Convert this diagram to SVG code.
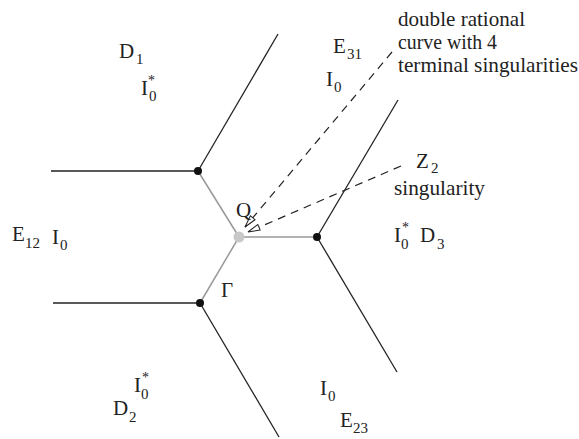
<svg xmlns="http://www.w3.org/2000/svg" width="579" height="439" viewBox="0 0 579 439" font-family="'Liberation Serif', 'Times New Roman', serif">
<style>
text{font-family:'Liberation Serif','Times New Roman',serif;fill:#222}
.m{font-size:21px}
.s{font-size:15px}
.st{font-size:14px}
.a{font-size:21px}
.blk{stroke:#222;stroke-width:1.3;fill:none}
.gry{stroke:#999;stroke-width:1.5;fill:none}
.dash{stroke:#222;stroke-width:1.2;fill:none;stroke-dasharray:8 6}
</style>
<defs>
<marker id="ah" markerWidth="14" markerHeight="10" refX="13" refY="5" orient="auto" markerUnits="userSpaceOnUse">
<path d="M1,2 L13,5 L1,8 Z" fill="#fff" stroke="#222" stroke-width="1"/>
</marker>
</defs>
<g id="connectors">
<line class="blk" x1="51" y1="171" x2="198" y2="171"/>
<line class="blk" x1="198" y1="171" x2="278" y2="34"/>
<line class="blk" x1="53" y1="303" x2="200" y2="303"/>
<line class="blk" x1="200" y1="303" x2="279" y2="437"/>
<line class="blk" x1="317" y1="237" x2="398" y2="100"/>
<line class="blk" x1="317" y1="237" x2="397" y2="372"/>
<line class="gry" x1="198" y1="171" x2="239" y2="237"/>
<line class="gry" x1="239" y1="237" x2="200" y2="303"/>
<line class="gry" x1="239" y1="237" x2="317" y2="237"/>
<line class="dash" x1="392" y1="52" x2="245" y2="227" marker-end="url(#ah)"/>
<line class="dash" x1="401" y1="166" x2="248" y2="232" marker-end="url(#ah)"/>
</g>
<g id="node-p1"><circle cx="198" cy="171" r="4" fill="#111"/></g>
<g id="node-p2"><circle cx="200" cy="303" r="4" fill="#111"/></g>
<g id="node-p3"><circle cx="317" cy="237" r="4" fill="#111"/></g>
<g id="node-Q"><circle cx="239" cy="237" r="5.5" fill="#c8c8c8"/>
<text class="m" x="236" y="217">Q</text></g>
<g id="label-Gamma"><text class="m" x="221" y="297">Γ</text></g>
<g id="label-D1">
<text class="m" x="119" y="58">D</text><text class="s" x="136" y="64">1</text>
<text class="m" x="141" y="95">I</text><text class="st" x="148" y="85">*</text><text class="s" x="149" y="101">0</text>
</g>
<g id="label-E31">
<text class="m" x="333" y="53">E</text><text class="s" x="347" y="59">31</text>
<text class="m" x="326" y="86">I</text><text class="s" x="334" y="92">0</text>
</g>
<g id="label-E12">
<text class="m" x="12" y="241">E</text><text class="s" x="25" y="248">12</text>
<text class="m" x="52" y="244">I</text><text class="s" x="60" y="250">0</text>
</g>
<g id="label-D3">
<text class="m" x="394" y="242">I</text><text class="st" x="402" y="232">*</text><text class="s" x="401" y="249">0</text>
<text class="m" x="420" y="242">D</text><text class="s" x="437" y="249">3</text>
</g>
<g id="label-D2">
<text class="m" x="134" y="392">I</text><text class="st" x="142" y="382">*</text><text class="s" x="141" y="399">0</text>
<text class="m" x="113" y="415">D</text><text class="s" x="129" y="422">2</text>
</g>
<g id="label-E23">
<text class="m" x="320" y="395">I</text><text class="s" x="328" y="401">0</text>
<text class="m" x="340" y="427">E</text><text class="s" x="353" y="433">23</text>
</g>
<g id="annot-curve">
<text class="a" x="398" y="26" textLength="127" lengthAdjust="spacingAndGlyphs">double rational</text>
<text class="a" x="398" y="49" textLength="99" lengthAdjust="spacingAndGlyphs">curve with 4</text>
<text class="a" x="398" y="72" textLength="180" lengthAdjust="spacingAndGlyphs">terminal singularities</text>
</g>
<g id="annot-Z2">
<text class="m" x="416" y="168">Z</text><text class="s" x="431" y="173">2</text>
<text class="a" x="394" y="195" textLength="91" lengthAdjust="spacingAndGlyphs">singularity</text>
</g>
</svg>
